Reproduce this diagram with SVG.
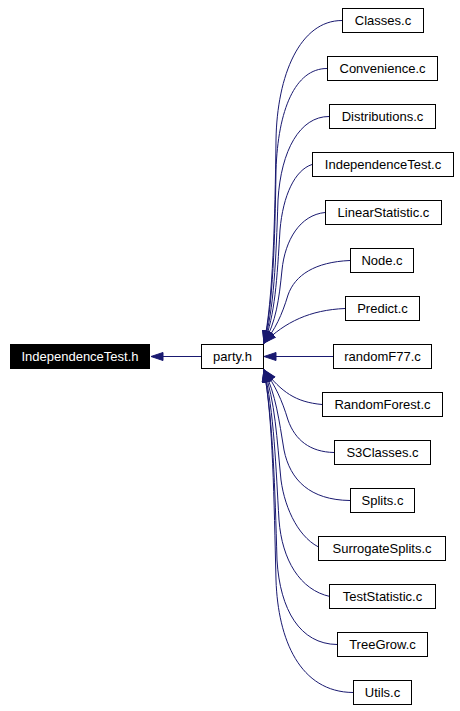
<svg xmlns="http://www.w3.org/2000/svg" width="460" height="711" viewBox="0 0 460 711">
<style>
.box{fill:#fff;stroke:#000;stroke-width:1}
.t{font-family:"Liberation Sans",Arial,sans-serif;font-size:13px;text-anchor:middle;fill:#000}
.e{fill:none;stroke:#191970;stroke-width:1;marker-end:url(#ah)}
</style>
<defs>
<marker id="ah" markerUnits="userSpaceOnUse" markerWidth="14" markerHeight="11" refX="12.5" refY="4.5" orient="auto">
<path d="M0.5,0.5 L12.5,4.5 L0.5,8.5 z" fill="#191970" stroke="#191970" stroke-width="1"/>
</marker>
</defs>
<rect width="460" height="711" fill="#fff"/>
<g id="edges">
<path class="e" d="M201,356.5 L151,356.5"/>
<path class="e" d="M342,20.5 C300,20.5 277,75 276,140 C275,220 273,300 264,343"/>
<path class="e" d="M327,68.5 C295,68.5 278,110 276,170 C275,240 273,305 264,343"/>
<path class="e" d="M329,116.5 C300,116.5 281,150 278,200 C276,260 274,310 264,343"/>
<path class="e" d="M312,164.5 C295,170 283,195 280,230 C277,280 275,315 264,343"/>
<path class="e" d="M325,212.5 C300,215 285,240 282,270 C279,300 276,322 264,343"/>
<path class="e" d="M350,260.5 C315,262 295,275 288,295 C282,315 275,330 264,343"/>
<path class="e" d="M345,308.5 C310,310 285,322 264,343"/>
<path class="e" d="M333,356.5 L264,356.5"/>
<path class="e" d="M322,404.5 C295,402 282,392 264,370"/>
<path class="e" d="M334,452.5 C310,452 295,440 288,420 C282,400 275,385 264,370"/>
<path class="e" d="M350,500.5 C310,500 290,480 284,450 C279,420 276,395 264,370"/>
<path class="e" d="M322,548.5 C300,540 285,510 281,480 C277,440 275,400 264,370"/>
<path class="e" d="M330,596.5 C300,590 282,560 279,520 C276,470 274,410 264,370"/>
<path class="e" d="M337,644.5 C300,644 280,610 277,560 C275,490 273,420 264,370"/>
<path class="e" d="M353,692.5 C300,692 278,640 276,580 C274,500 273,420 264,370"/>
</g>
<g id="n-IndependenceTest-h"><rect x="10.5" y="344.5" width="139" height="24" fill="#000" stroke="#000"/><text class="t" x="80" y="361" style="fill:#fff">IndependenceTest.h</text></g>
<g id="n-party-h"><rect class="box" x="201.5" y="344.5" width="62" height="24"/><text class="t" x="232.5" y="361">party.h</text></g>
<g id="n-Classes"><rect class="box" x="342.5" y="8.5" width="81" height="24"/><text class="t" x="383" y="25">Classes.c</text></g>
<g id="n-Convenience"><rect class="box" x="327.5" y="56.5" width="110" height="24"/><text class="t" x="382.5" y="73">Convenience.c</text></g>
<g id="n-Distributions"><rect class="box" x="329.5" y="104.5" width="106" height="24"/><text class="t" x="382.5" y="121">Distributions.c</text></g>
<g id="n-IndependenceTest-c"><rect class="box" x="312.5" y="152.5" width="141" height="24"/><text class="t" x="383" y="169">IndependenceTest.c</text></g>
<g id="n-LinearStatistic"><rect class="box" x="325.5" y="200.5" width="116" height="24"/><text class="t" x="383.5" y="217">LinearStatistic.c</text></g>
<g id="n-Node"><rect class="box" x="350.5" y="248.5" width="63" height="24"/><text class="t" x="382" y="265">Node.c</text></g>
<g id="n-Predict"><rect class="box" x="345.5" y="296.5" width="74" height="24"/><text class="t" x="382.5" y="313">Predict.c</text></g>
<g id="n-randomF77"><rect class="box" x="333.5" y="344.5" width="98" height="24"/><text class="t" x="382.5" y="361">randomF77.c</text></g>
<g id="n-RandomForest"><rect class="box" x="322.5" y="392.5" width="120" height="24"/><text class="t" x="382.5" y="409">RandomForest.c</text></g>
<g id="n-S3Classes"><rect class="box" x="334.5" y="440.5" width="96" height="24"/><text class="t" x="382.5" y="457">S3Classes.c</text></g>
<g id="n-Splits"><rect class="box" x="350.5" y="488.5" width="64" height="24"/><text class="t" x="382.5" y="505">Splits.c</text></g>
<g id="n-SurrogateSplits"><rect class="box" x="318.5" y="536.5" width="127" height="24"/><text class="t" x="382" y="553">SurrogateSplits.c</text></g>
<g id="n-TestStatistic"><rect class="box" x="329.5" y="584.5" width="106" height="24"/><text class="t" x="382.5" y="601">TestStatistic.c</text></g>
<g id="n-TreeGrow"><rect class="box" x="337.5" y="632.5" width="90" height="24"/><text class="t" x="382.5" y="649">TreeGrow.c</text></g>
<g id="n-Utils"><rect class="box" x="353.5" y="680.5" width="58" height="24"/><text class="t" x="382.5" y="697">Utils.c</text></g>
</svg>
